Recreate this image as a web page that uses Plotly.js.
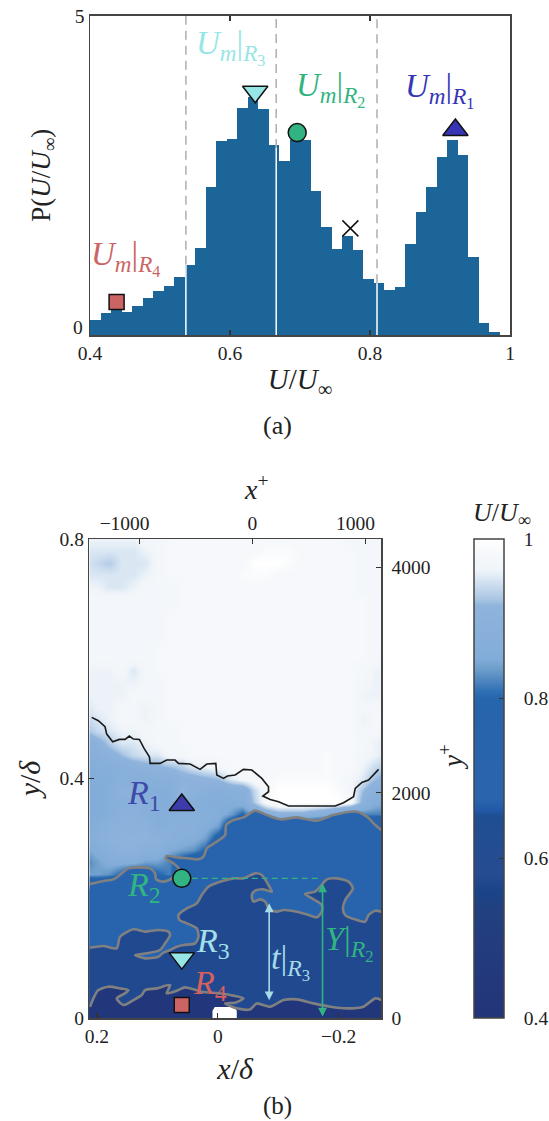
<!DOCTYPE html>
<html>
<head>
<meta charset="utf-8">
<script src="https://cdn.plot.ly/plotly-3.0.1.min.js"></script>
<style>html,body{margin:0;padding:0;background:#fff}#chart{width:549px;height:1121px}</style>
</head>
<body>
<div id="chart"></div>
<script>
// ---------- panel (a) : histogram of U/Uinf ----------
const histStart = 0.4075, histBin = 0.015;
const histDensity = [0.235,0.345,0.40,0.36,0.454,0.58,0.69,0.767,0.908,1.096,1.362,2.317,3.04,3.07,3.55,3.73,3.54,2.97,2.72,3.05,3.05,2.255,1.69,1.347,1.55,1.33,0.877,0.814,0.705,0.75,1.425,1.926,2.317,2.787,3.05,2.82,1.22,0.188,0.047,0];
const regionEdges = [0.537,0.666,0.81];
const regionEdgeTops = [1.10,2.93,0.81];
const modalU = [0.922,0.696,0.636,0.438];
const modalP = [3.21,3.17,3.81,0.517];
const saddleU = [0.772], saddleP = [1.67];
const modeNames = ['R1','R2','R3','R4'];
const modeColours = ['#3535b5','#32b482','#96e6e6','#cd6464'];
const modeSymbols = ['triangle-up','circle','triangle-down','square'];
const modeSizes = [22,18,22,15];

// ---------- panel (b) : velocity field, read on a coarse grid ----------
const fieldX = [0.22,0.20,0.18,0.16,0.14,0.12,0.10,0.08,0.06,0.04,0.02,0,-0.02,-0.04,-0.06,-0.08,-0.10,-0.12,-0.14,-0.16,-0.18,-0.20,-0.22,-0.24,-0.26,-0.28];
const fieldY = [0.80,0.78,0.76,0.74,0.72,0.70,0.68,0.66,0.64,0.62,0.60,0.58,0.56,0.54,0.52,0.50,0.48,0.46,0.44,0.42,0.40,0.38,0.36,0.34,0.32,0.30,0.28,0.26,0.24,0.22,0.20,0.18,0.16,0.14,0.12,0.10,0.08,0.06,0.04,0.02,0];
const fieldPercent = [
[96,96,96,96,96,97,97,98,98,98,98,98,98,98,98,98,98,98,98,98,98,98,97,97,97,97],
[95,95,95,95,95,96,97,98,98,98,98,98,98,98,98,99,99,99,98,98,98,98,98,97,97,97],
[95,94,93,95,95,95,97,98,98,98,98,98,98,98,100,100,100,99,98,98,98,98,98,97,97,97],
[95,95,95,95,95,96,97,98,98,98,98,98,98,99,99,99,98,98,98,98,98,98,98,97,97,97],
[96,96,95,95,96,97,97,97,98,98,98,98,98,98,98,98,98,98,98,98,98,98,98,97,97,97],
[97,97,97,97,97,97,97,97,98,98,98,98,98,98,98,98,98,98,98,98,98,98,98,98,97,97],
[97,97,97,97,97,97,97,98,98,98,98,98,98,98,98,98,98,98,98,98,98,98,98,98,97,97],
[97,97,97,97,97,97,97,98,98,98,98,98,98,98,98,98,98,98,98,98,98,98,98,98,97,97],
[97,97,97,97,97,97,97,98,98,98,98,98,98,98,98,98,98,98,98,98,98,98,98,98,97,97],
[97,97,97,97,97,97,98,98,98,98,98,98,98,98,98,98,98,98,98,98,98,98,98,98,97,97],
[97,97,97,97,97,97,98,98,98,98,98,98,98,98,98,98,98,98,98,98,98,98,98,98,97,96],
[96,96,96,97,95,97,98,98,98,98,98,98,98,98,98,98,98,98,98,98,98,98,98,97,96,96],
[96,96,96,96,96,97,97,98,98,98,98,98,98,98,98,98,98,98,98,98,98,98,98,97,96,96],
[96,96,96,96,97,97,97,98,98,98,98,98,98,98,98,98,98,98,98,98,98,98,98,96,96,96],
[95,96,96,97,97,96,97,98,98,98,98,98,98,98,98,98,98,98,98,98,98,98,98,97,97,97],
[94,95,96,97,97,96,97,98,98,98,98,98,98,98,98,98,98,98,98,98,98,98,98,96,97,97],
[92,94,95,96,96,97,97,97,98,98,98,98,98,98,98,98,98,98,98,98,98,98,98,97,97,96],
[88,90,93,95,95,96,97,97,98,98,98,98,98,98,98,98,98,98,98,98,98,98,98,97,96,95],
[87,88,90,92,94,95,95,97,97,98,98,98,98,98,98,98,98,98,98,98,99,98,98,97,96,95],
[86,87,87,88,89,90,91,92,93,95,96,97,98,98,98,98,98,98,98,98,99,98,98,96,94,93],
[85,86,86,88,87,87,88,88,90,90,91,92,95,97,98,98,99,99,99,99,99,98,97,95,92,90],
[85,85,87,90,90,88,86,87,92,90,88,87,88,88,94,98,100,100,100,100,100,99,97,92,88,86],
[85,85,87,88,88,87,86,86,88,88,86,86,86,87,93,98,100,100,100,100,100,100,98,90,86,85],
[85,85,87,89,90,88,86,87,87,87,87,86,84,80,85,88,90,90,90,88,86,82,80,82,82,82],
[85,87,89,90,90,90,87,88,88,88,86,84,75,72,72,72,72,72,72,72,72,72,72,72,72,72],
[86,88,90,91,91,91,90,88,87,86,84,78,72,72,72,72,72,72,72,72,72,72,72,72,72,72],
[84,86,88,90,90,88,88,85,84,83,80,72,72,72,72,72,72,72,72,72,72,72,72,72,72,72],
[82,84,86,86,86,84,84,82,78,75,72,72,72,72,72,72,72,72,72,72,72,72,72,72,72,72],
[84,84,83,80,76,78,80,82,74,72,72,72,72,72,72,72,72,72,72,72,72,72,72,72,72,72],
[72,72,72,72,72,72,72,72,72,72,72,72,72,72,72,72,72,72,72,72,72,72,72,72,72,72],
[72,72,72,72,72,72,72,72,72,72,72,72,60,60,60,60,60,60,72,72,60,72,72,72,72,72],
[72,72,72,72,72,72,72,72,72,72,60,60,60,60,60,60,60,60,60,60,60,72,72,72,72,72],
[72,72,72,72,72,72,72,72,72,60,60,60,60,60,60,60,60,60,60,60,60,72,72,72,72,72],
[72,72,72,72,60,60,60,72,72,60,60,60,60,60,60,60,60,60,60,60,60,60,60,60,60,60],
[60,60,60,60,60,60,60,60,60,60,60,60,60,60,60,60,60,60,60,60,60,60,60,60,60,60],
[60,60,60,60,60,60,60,60,60,60,60,60,60,60,60,60,60,60,60,60,60,60,60,60,60,60],
[60,60,60,60,60,60,60,60,60,60,60,60,60,60,60,60,60,60,60,60,60,60,60,60,60,60],
[60,60,60,60,60,60,60,60,60,60,60,60,60,60,60,60,60,60,60,60,60,60,60,60,60,60],
[60,50,50,50,60,60,60,50,50,50,50,50,60,60,60,60,60,60,60,60,60,60,60,60,60,60],
[60,50,50,50,50,50,50,50,50,50,50,50,50,50,50,50,60,60,50,50,50,50,50,50,50,50],
[46,46,46,46,46,46,46,46,46,46,46,46,46,46,46,46,46,46,46,46,46,46,46,46,46,46]
];
const levelStops = [0.40,0.535,0.558,0.58,0.653,0.66,0.675,0.80,0.81,0.82,0.83,0.837,0.85,0.916,0.925,0.934,0.945,0.956,0.963,0.985,1];
const levelColours = ['#233479','#22407f','#1a4488','#264b90','#1f4e93','#2259a8','#2a64ad','#2664ab','#2f71b5','#4a82bd','#5f92c5','#6d9ecb','#82acd9','#8fb4dc','#aac6e4','#bcd2ea','#d0e0f0','#e6eff7','#f1f5f9','#f7f9fb','#ffffff'];

// edge of the turbulent/non-turbulent region
const tntX = [0.2086,0.1976,0.1866,0.1838,0.1739,0.1628,0.1534,0.1463,0.1396,0.1297,0.1220,0.1132,0.1120,0.0955,0.0845,0.0707,0.0651,0.0458,0.0293,0.0182,0.0033,0.0017,-0.0094,-0.0160,-0.0287,-0.0425,-0.0563,-0.0673,-0.0728,-0.0839,-0.0839,-0.0745,-0.0866,-0.1004,-0.1170,-0.1942,-0.2080,-0.2246,-0.2274,-0.2384,-0.2494,-0.2660];
const tntY = [0.5021,0.4965,0.4865,0.4742,0.4614,0.4653,0.4653,0.4709,0.4659,0.4653,0.4503,0.4364,0.4252,0.4252,0.4308,0.4308,0.4252,0.4241,0.4152,0.4241,0.4252,0.4058,0.4002,0.4041,0.4058,0.4152,0.4141,0.4058,0.4002,0.3863,0.3779,0.3707,0.3651,0.3612,0.3540,0.3540,0.3595,0.3696,0.3835,0.3935,0.3974,0.4152];
// interfaces between uniform momentum zones
const edgeR2X = [0.2114,0.1893,0.1728,0.1590,0.1479,0.1314,0.1120,0.1038,0.1021,0.0900,0.0762,0.0651,0.0734,0.0861,0.0845,0.0679,0.0486,0.0320,0.0237,0.0182,0.0017,-0.0121,-0.0138,-0.0259,-0.0425,-0.0618,-0.0811,-0.1032,-0.1308,-0.1639,-0.1915,-0.2301,-0.2467,-0.2605,-0.2704];
const edgeR2Y = [0.2238,0.2288,0.2316,0.2416,0.2499,0.2516,0.2499,0.2416,0.2316,0.2277,0.2332,0.2499,0.2583,0.2667,0.2706,0.2683,0.2667,0.2650,0.2694,0.2834,0.2945,0.3056,0.3223,0.3307,0.3351,0.3463,0.3390,0.3318,0.3351,0.3296,0.3390,0.3446,0.3363,0.3223,0.3140];
const edgeR3X = [-0.2704,-0.2605,-0.2494,-0.2439,-0.2301,-0.2108,-0.2069,-0.2108,-0.2235,-0.2163,-0.1970,-0.1804,-0.1694,-0.1611,-0.1446,-0.1584,-0.1722,-0.1722,-0.1639,-0.1501,-0.1308,-0.1087,-0.0977,-0.0839,-0.0784,-0.0701,-0.0590,-0.0563,-0.0618,-0.0756,-0.0894,-0.0839,-0.0728,-0.0618,-0.0425,-0.0259,-0.0038,0.0155,0.0265,0.0348,0.0513,0.0651,0.0635,0.0513,0.0348,0.0320,0.0375,0.0569,0.0679,0.0789,0.0900,0.0983,0.1203,0.1369,0.1176,0.0955,0.0872,0.0789,0.0817,0.0983,0.1203,0.1396,0.1617,0.1672,0.1893,0.2114];
const edgeR3Y = [0.1776,0.1792,0.1720,0.1609,0.1636,0.1720,0.1831,0.1971,0.2165,0.2277,0.2332,0.2316,0.2193,0.2110,0.2071,0.1982,0.1887,0.1776,0.1681,0.1720,0.1776,0.1804,0.1776,0.1831,0.1943,0.1982,0.1943,0.2054,0.2126,0.2149,0.2110,0.2221,0.2388,0.2416,0.2332,0.2332,0.2277,0.2193,0.2054,0.1915,0.1831,0.1720,0.1636,0.1581,0.1497,0.1358,0.1247,0.1219,0.1191,0.1135,0.1091,0.1024,0.0996,0.1052,0.1080,0.1135,0.1247,0.1386,0.1442,0.1469,0.1442,0.1481,0.1358,0.1163,0.1202,0.1174];
const edgeR4X = [0.2114,0.2059,0.1976,0.1810,0.1617,0.1479,0.1534,0.1672,0.1562,0.1396,0.1258,0.1203,0.1010,0.0789,0.0845,0.0679,0.0541,0.0265,-0.0011,-0.0204,-0.0425,-0.0287,-0.0121,-0.0314,-0.0535,-0.0645,-0.0866,-0.1087,-0.1308,-0.1584,-0.1860,-0.2136,-0.2411,-0.2605,-0.2704];
const edgeR4Y = [0.0189,0.0328,0.0467,0.0523,0.0495,0.0467,0.0412,0.0328,0.0217,0.0300,0.0384,0.0467,0.0495,0.0551,0.0412,0.0456,0.0512,0.0439,0.0412,0.0384,0.0328,0.0256,0.0244,0.0161,0.0144,0.0244,0.0189,0.0300,0.0311,0.0244,0.0189,0.0161,0.0189,0.0328,0.0300];
const zoneFillR2 = '#2864ad', zoneFillR3 = '#20498f', zoneFillR4 = '#22367b';
const zoneSides = {right:-0.30, left:0.24, floor:-0.01};
const bumpX = [0.0088,0.0088,0.005,-0.027,-0.0314,-0.0314];
const bumpY = [0,0.012,0.0184,0.0184,0.012,0];
const probeX = [0.0596,0.0596,0.0596,0.0596];
const probeY = [0.3557,0.2332,0.1000,0.0217];
const thicknessX = -0.085, thicknessY = [0.0272,0.1915];
const heightX = -0.1733, heightY = [0,0.2249];
const heightGuideX = [0.0596,-0.1694], heightGuideY = [0.2332,0.2332];
const innerScaleX = [0], innerScaleY = [0];

// ---------- frames ----------
const W = 549, H = 1121;
const dx = (a,b)=>[a/W,b/W], dy = (top,bot)=>[1-bot/H,1-top/H];
const serif = 'Liberation Serif, serif';
const ink = '#444444';
const tickBase = {showgrid:false,zeroline:false,ticks:'inside',ticklen:5,tickcolor:'#333',tickwidth:1.2,showline:true,linecolor:ink,linewidth:1.5,tickfont:{family:serif,size:19.5,color:'#222'}};
const ttl = (t,size,extra)=>Object.assign({text:t,font:{family:serif,size,color:'#222'}},extra||{});

const lineTrace = (x,y,colour,width,shape)=>({type:'scatter',mode:'lines',x,y,xaxis:'x2',yaxis:'y2',line:{color:colour,width,shape:shape||'linear',smoothing:0.7},hoverinfo:'skip',showlegend:false});
const fillTrace = (x,y,colour)=>({type:'scatter',mode:'none',x:[...x,zoneSides.right,zoneSides.left],y:[...y,zoneSides.floor,zoneSides.floor],xaxis:'x2',yaxis:'y2',fill:'toself',fillcolor:colour,hoverinfo:'skip',showlegend:false});
const fillTraceRev = (x,y,colour)=>({type:'scatter',mode:'none',x:[...x,zoneSides.left,zoneSides.right],y:[...y,zoneSides.floor,zoneSides.floor],xaxis:'x2',yaxis:'y2',fill:'toself',fillcolor:colour,hoverinfo:'skip',showlegend:false});

const dashX=[],dashY=[],sepX=[],sepY=[];
regionEdges.forEach((e,i)=>{dashX.push(e,e,null);dashY.push(regionEdgeTops[i],5,null);sepX.push(e,e,null);sepY.push(0,regionEdgeTops[i],null);});

const colourScale = levelStops.map((s,i)=>[(s-0.4)/0.6,levelColours[i]]);

const traces = [
 {type:'bar',x0:histStart,dx:histBin,y:histDensity,marker:{color:'#1b6599',line:{width:0}},xaxis:'x',yaxis:'y',showlegend:false,hoverinfo:'skip'},
 {type:'scatter',mode:'lines',x:dashX,y:dashY,line:{color:'#b3b3b3',width:1.6,dash:'9px,6px'},xaxis:'x',yaxis:'y',showlegend:false,hoverinfo:'skip'},
 {type:'scatter',mode:'lines',x:sepX,y:sepY,line:{color:'#ffffff',width:1.5},xaxis:'x',yaxis:'y',showlegend:false,hoverinfo:'skip'},
 {type:'scatter',mode:'markers',x:modalU,y:modalP,text:modeNames,marker:{color:modeColours,symbol:modeSymbols,size:modeSizes,opacity:1,line:{color:'#111',width:1.5}},xaxis:'x',yaxis:'y',cliponaxis:false,showlegend:false},
 {type:'scatter',mode:'markers',x:saddleU,y:saddleP,marker:{color:'#111',symbol:'x-thin',size:16,line:{color:'#111',width:1.5}},xaxis:'x',yaxis:'y',showlegend:false},
 {type:'heatmap',x:fieldX,y:fieldY,z:fieldPercent.map(r=>r.map(v=>v/100)),zmin:0.4,zmax:1,zsmooth:'best',colorscale:colourScale,xaxis:'x2',yaxis:'y2',hoverinfo:'skip',
  colorbar:{x:474/W,xanchor:'left',y:1-539/H,yanchor:'top',thicknessmode:'pixels',thickness:30,lenmode:'pixels',len:479,xpad:0,ypad:0,outlinecolor:ink,outlinewidth:1.5,
   tickmode:'array',tickvals:[0.4,0.6,0.8,1],ticktext:['\u2002\u20050.4','\u2002\u20050.6','\u2002\u20050.8','\u2002\u20051'],ticks:'inside',ticklen:5,tickcolor:'#333',ticklabeloverflow:'allow',tickfont:{family:serif,size:19.5,color:'#222'}}},
 fillTrace(edgeR2X,edgeR2Y,zoneFillR2),
 fillTraceRev(edgeR3X,edgeR3Y,zoneFillR3),
 fillTrace(edgeR4X,edgeR4Y,zoneFillR4),
 {type:'scatter',mode:'none',x:bumpX,y:bumpY,fill:'toself',fillcolor:'#ffffff',xaxis:'x2',yaxis:'y2',hoverinfo:'skip',showlegend:false},
 lineTrace(tntX,tntY,'#1a1a1a',1.6),
 lineTrace(edgeR2X,edgeR2Y,'#808080',2.6,'spline'),
 lineTrace(edgeR3X,edgeR3Y,'#808080',2.6,'spline'),
 lineTrace(edgeR4X,edgeR4Y,'#808080',2.6,'spline'),
 {type:'scatter',mode:'lines',x:heightGuideX,y:heightGuideY,line:{color:'#32b482',width:1.4,dash:'6px,4px'},xaxis:'x2',yaxis:'y2',showlegend:false,hoverinfo:'skip'},
 {type:'scatter',mode:'markers',x:probeX,y:probeY,text:modeNames,marker:{color:['#3c3cac','#32b482','#96e6e6','#cd6464'],symbol:modeSymbols,size:modeSizes,opacity:1,line:{color:'#111',width:1.5}},xaxis:'x2',yaxis:'y2',showlegend:false},
 {type:'scatter',mode:'none',x:innerScaleX,y:innerScaleY,xaxis:'x3',yaxis:'y3',showlegend:false,hoverinfo:'skip'}
];

const note = (text,x,y,colour,size,ref,extra)=>Object.assign({text,x,y,xref:ref[0],yref:ref[1],xanchor:'center',yanchor:'middle',showarrow:false,font:{family:serif,size,color:colour}},extra||{});
const um = r=>`<i>U<sub>m</sub></i>|<sub><i>R</i><sub>${r}</sub></sub>`;
const a1=['x','y'], a2=['x2','y2'], pp=['paper','paper'];
const arrow = (x,ys,colour)=>({x,y:ys[1],ax:x,ay:ys[0],xref:'x2',yref:'y2',axref:'x2',ayref:'y2',text:'',showarrow:true,arrowside:'end+start',arrowhead:2,arrowsize:1.1,arrowwidth:1.6,arrowcolor:colour});

const layout = {
 width:W,height:H,margin:{l:0,r:0,t:0,b:0,autoexpand:false},paper_bgcolor:'#fff',plot_bgcolor:'#fff',showlegend:false,bargap:0,
 font:{family:serif},
 xaxis:Object.assign({},tickBase,{domain:dx(90,510),range:[0.4,1],anchor:'y',mirror:'allticks',tickmode:'array',tickvals:[0.4,0.6,0.8,1],ticktext:['0.4','0.6','0.8','1'],title:ttl('<i>U</i>/<i>U</i><sub>∞</sub>',29,{standoff:6})}),
 yaxis:Object.assign({},tickBase,{domain:dy(15.7,335),range:[0,5],anchor:'x',mirror:true,tickmode:'array',tickvals:[0,5],ticktext:['','5'],title:ttl('P(<i>U</i>/<i>U</i><sub>∞</sub>)',27,{standoff:16})}),
 xaxis2:Object.assign({},tickBase,{domain:dx(89.3,381),range:[0.2126,-0.27],anchor:'y2',tickmode:'array',tickvals:[0.2,0,-0.2],ticktext:['0.2','0','\u22120.2'],title:ttl('<i>x</i>/<i>δ</i>',30,{standoff:12})}),
 yaxis2:Object.assign({},tickBase,{domain:dy(539,1018),range:[0,0.8],anchor:'x2',tickmode:'array',tickvals:[0,0.4,0.8],ticktext:['0','0.4','0.8'],title:ttl('<i>y</i>/<i>δ</i>',30,{standoff:10})}),
 xaxis3:Object.assign({},tickBase,{overlaying:'x2',anchor:'y2',side:'top',range:[-1442,1139],tickmode:'array',tickvals:[-1000,0,1000],ticktext:['\u22121000\u2003\u2002','0','1000\u2003']}),
 yaxis3:Object.assign({},tickBase,{overlaying:'y2',anchor:'x2',side:'right',range:[0,4254],tickmode:'array',tickvals:[0,2000,4000],ticktext:['0','2000','4000'],ticklabelstandoff:5}),
 annotations:[
  note('0',0.4,0.11,'#222',19.5,a1,{xanchor:'right',xshift:-5}),
  note('<i>y</i><sup>+</sup>',451/W,1-757/H,'#222',27,pp,{textangle:-90}),
  note('<i>x</i><sup>+</sup>',256.5/W,1-487/H,'#222',28,pp),
  note(um(3),0.601,4.51,modeColours[2],33,a1),
  note(um(2),0.743,3.85,modeColours[1],33,a1),
  note(um(1),0.899,3.84,modeColours[0],33,a1),
  note(um(4),0.45,1.2,modeColours[3],33,a1),
  note('(a)',277/W,1-425/H,'#222',26,pp),
  note('(b)',277/W,0,'#222',25,pp,{yanchor:'bottom',borderpad:0}),
  note('<i>U</i>/<i>U</i><sub>∞</sub>',502/W,1-514/H,'#222',26,pp),
  note('<i>R</i><sub>1</sub>',0.122,0.3725,'#3e4aa8',34,a2),
  note('<i>R</i><sub>2</sub>',0.122,0.2193,modeColours[1],34,a2),
  note('<i>R</i><sub>3</sub>',0.0083,0.1247,'#a5e0ea',34,a2),
  note('<i>R</i><sub>4</sub>',0.0127,0.055,'#d66060',34,a2),
  note('<i>t</i>|<sub><i>R</i><sub>3</sub></sub>',-0.12,0.094,'#a5dce8',34,a2),
  note('<i>Y</i>|<sub><i>R</i><sub>2</sub></sub>',-0.218,0.1247,modeColours[1],34,a2),
  arrow(thicknessX,thicknessY,'#a5dce8'),
  arrow(heightX,heightY,'#32b482')
 ]
};
Plotly.newPlot('chart',traces,layout,{staticPlot:true,displayModeBar:false});
</script>
</body>
</html>
